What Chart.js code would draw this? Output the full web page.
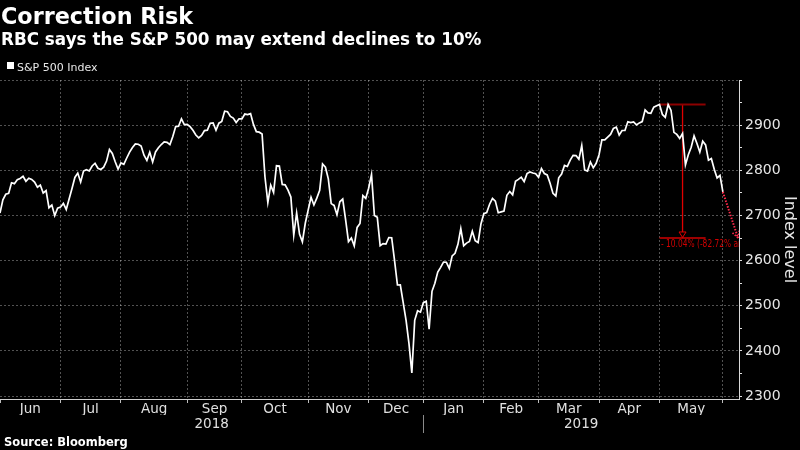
<!DOCTYPE html>
<html>
<head>
<meta charset="utf-8">
<script src="https://cdn.jsdelivr.net/npm/chart.js@4.4.1/dist/chart.umd.min.js"></script>
<style>
  html, body { margin: 0; padding: 0; background: #000; }
  #wrap { position: relative; width: 800px; height: 450px; background: #000; overflow: hidden; }
  #wrap canvas { position: absolute; left: 0; top: 0; }
  .txt { position: absolute; color: #fff; white-space: nowrap; font-family: "DejaVu Sans", sans-serif; line-height: 1; }
  #title { left: 1px; top: 5.2px; font-size: 22.3px; font-weight: bold; }
  #subtitle { left: 1px; top: 30.6px; font-size: 16.8px; font-weight: bold; }
  #legend { left: 17px; top: 61.7px; font-size: 11px; color: #e8e8e8; }
  #legendBox { position: absolute; left: 7px; top: 62px; width: 7px; height: 7px; background: #fff; }
  #source { left: 4px; top: 436.5px; font-size: 11.5px; font-weight: bold; }
</style>
</head>
<body>
<div id="wrap">
  <canvas id="spxChart" width="800" height="450"></canvas>
  <div class="txt" id="title">Correction Risk</div>
  <div class="txt" id="subtitle">RBC says the S&amp;P 500 may extend declines to 10%</div>
  <div id="legendBox"></div>
  <div class="txt" id="legend">S&amp;P 500 Index</div>
  <div class="txt" id="source">Source: Bloomberg</div>
</div>
<script>
// S&P 500 daily closes, May 31 2018 .. May 31 2019 (x = trading day index)
const closes = [
  2705.27,
  // Jun 2018
  2734.62, 2746.87, 2748.80, 2772.35, 2770.37, 2779.03, 2782.00, 2786.85, 2775.63, 2782.49, 2779.66,
  2773.75, 2762.59, 2767.32, 2749.76, 2754.88, 2717.07, 2723.06, 2699.63, 2716.31, 2718.37,
  // Jul
  2726.71, 2713.22, 2736.61, 2759.82, 2784.17, 2793.84, 2774.02, 2798.29, 2801.31, 2798.43, 2809.55,
  2815.62, 2804.49, 2801.83, 2806.98, 2820.40, 2846.07, 2837.44, 2818.82, 2802.60, 2816.29,
  // Aug
  2813.36, 2827.22, 2840.35, 2850.40, 2858.45, 2857.70, 2853.58, 2833.28, 2821.93, 2839.96, 2818.37,
  2840.69, 2850.13, 2857.05, 2862.96, 2861.82, 2856.98, 2874.69, 2896.74, 2897.52, 2914.04, 2901.13, 2901.52,
  // Sep
  2896.72, 2888.60, 2878.05, 2871.68, 2877.13, 2887.89, 2888.92, 2904.18, 2904.98, 2888.80,
  2904.31, 2907.95, 2930.75, 2929.67, 2919.37, 2915.56, 2905.97, 2914.00, 2913.98,
  // Oct
  2924.59, 2923.43, 2925.51, 2901.61, 2885.57, 2884.43, 2880.34, 2785.68, 2728.37, 2767.13, 2750.79,
  2809.92, 2809.21, 2768.78, 2767.78, 2755.88, 2740.69, 2656.10, 2705.57, 2658.69, 2641.25, 2682.63, 2711.74,
  // Nov
  2740.37, 2723.06, 2738.31, 2755.45, 2813.89, 2806.83, 2781.01, 2726.22, 2722.18, 2701.58, 2730.20,
  2736.27, 2690.73, 2641.89, 2649.93, 2632.56, 2673.45, 2682.17, 2743.79, 2737.80, 2760.17,
  // Dec
  2790.37, 2700.06, 2695.95, 2633.08, 2637.72, 2636.78, 2651.07, 2650.54, 2599.95, 2545.94,
  2546.16, 2506.96, 2467.42, 2416.62, 2351.10, 2467.70, 2488.83, 2485.74, 2506.85,
  // Jan 2019
  2510.03, 2447.89, 2531.94, 2549.69, 2574.41, 2584.96, 2596.64, 2596.26, 2582.61, 2610.30, 2616.10,
  2635.96, 2670.71, 2632.90, 2638.70, 2642.33, 2664.76, 2643.85, 2640.00, 2681.05, 2704.10,
  // Feb
  2706.53, 2724.87, 2737.70, 2731.61, 2706.05, 2707.88, 2709.80, 2744.73, 2753.03, 2745.73,
  2775.60, 2779.76, 2784.70, 2774.88, 2792.67, 2796.11, 2793.90, 2792.38, 2784.49,
  // Mar
  2803.69, 2792.81, 2789.65, 2771.45, 2748.93, 2743.07, 2783.30, 2791.52, 2810.92, 2808.48, 2822.48,
  2832.94, 2832.57, 2824.23, 2854.88, 2800.71, 2798.36, 2818.46, 2805.37, 2815.44, 2834.40,
  // Apr
  2867.19, 2867.24, 2873.40, 2879.39, 2892.74, 2895.77, 2878.20, 2888.21, 2888.32, 2907.41, 2905.58,
  2907.06, 2900.45, 2905.03, 2907.97, 2933.68, 2927.25, 2926.17, 2939.88, 2943.03, 2945.83,
  // May
  2923.73, 2917.52, 2945.64, 2932.47, 2884.05, 2879.42, 2870.72, 2881.40, 2811.87, 2834.41, 2850.96,
  2876.32, 2859.53, 2840.23, 2864.36, 2856.27, 2822.24, 2826.06, 2802.39, 2783.02, 2788.86, 2752.06
];

const monthLabels = ['Jun', 'Jul', 'Aug', 'Sep', 'Oct', 'Nov', 'Dec', 'Jan', 'Feb', 'Mar', 'Apr', 'May'];
// index of the last trading day of each month (first entry = start of data)
const monthEnds = [0, 21, 42, 65, 84, 107, 128, 147, 168, 187, 208, 229, 251];
const yearLabels = ['2018', '2019'];
const yearBreak = 147;
const yTicks = [2300, 2350, 2400, 2450, 2500, 2550, 2600, 2650, 2700, 2750, 2800, 2850, 2900, 2950, 3000];

// RBC scenario
const declinePct = 10.04;
const annualizedPct = -82.72;
const peakIndex = 229;
const markerEnd = 245;
const dropIndex = 237;
const projEndIndex = 256.25;

const xMax = 256.6;
const peakLevel = Math.max(...closes);
const targetLevel = peakLevel * (1 - declinePct / 100);
const lastIndex = closes.length - 1;

const gridGray = 'rgba(255,255,255,0.32)';
const axisFont = '"DejaVu Sans", sans-serif';

const monthCenters = monthLabels.map((m, i) => (monthEnds[i] + monthEnds[i + 1]) / 2);
const yearTicks = [yearBreak / 2, yearBreak, (yearBreak + xMax) / 2];

const annotationMarks = {
    id: 'annotationMarks',
    afterDatasetsDraw(chart) {
        const {ctx, chartArea, scales: {x, y}} = chart;
        ctx.save();
        ctx.beginPath();
        ctx.rect(chartArea.left, chartArea.top, chartArea.width, chartArea.height);
        ctx.clip();

        // hollow arrow head at the bottom of the drop line
        const ax = x.getPixelForValue(dropIndex);
        const ay = y.getPixelForValue(targetLevel);
        ctx.beginPath();
        ctx.moveTo(ax - 3.5, ay - 6);
        ctx.lineTo(ax + 3.5, ay - 6);
        ctx.lineTo(ax, ay - 0.5);
        ctx.closePath();
        ctx.fillStyle = '#000';
        ctx.fill();
        ctx.strokeStyle = '#e00000';
        ctx.lineWidth = 1;
        ctx.stroke();

        // dotted arrow head at the end of the projection
        const sx = x.getPixelForValue(lastIndex), sy = y.getPixelForValue(closes[lastIndex]);
        const ex = x.getPixelForValue(projEndIndex), ey = y.getPixelForValue(targetLevel);
        const ang = Math.atan2(ey - sy, ex - sx);
        ctx.strokeStyle = '#ff2a4a';
        ctx.lineWidth = 1.6;
        ctx.setLineDash([1.5, 1.5]);
        [-0.5, 0.5].forEach(d => {
            ctx.beginPath();
            ctx.moveTo(ex, ey);
            ctx.lineTo(ex - 9 * Math.cos(ang + d), ey - 9 * Math.sin(ang + d));
            ctx.stroke();
        });
        ctx.setLineDash([]);

        // label, squeezed to look like the narrow terminal font
        const tx = x.getPixelForValue(peakIndex) + 1.5;
        ctx.translate(tx, ay + 6.5);
        ctx.scale(0.78, 1);
        ctx.font = '9.6px ' + axisFont;
        ctx.fillStyle = '#d00000';
        ctx.textBaseline = 'middle';
        ctx.textAlign = 'left';
        ctx.fillText('- ' + declinePct.toFixed(2) + '% (' + annualizedPct.toFixed(2) + '% annualized)', 0, 0);
        ctx.restore();
    }
};

const ctx = document.getElementById('spxChart').getContext('2d');
const spxChart = new Chart(ctx, {
    type: 'line',
    data: {
        datasets: [
            {
                label: 'S&P 500 Index',
                data: closes.map((v, i) => ({x: i, y: v})),
                borderColor: '#ffffff',
                borderWidth: 1.7,
                pointRadius: 0,
                tension: 0,
                order: 1
            },
            {
                label: 'peak',
                data: [{x: peakIndex, y: peakLevel}, {x: markerEnd, y: peakLevel}],
                borderColor: '#8c0000',
                borderWidth: 2,
                pointRadius: 0,
                order: 2
            },
            {
                label: 'drop',
                data: [{x: dropIndex, y: peakLevel}, {x: dropIndex, y: targetLevel}],
                borderColor: '#e00000',
                borderWidth: 1.3,
                pointRadius: 0,
                order: 2
            },
            {
                label: 'target',
                data: [{x: peakIndex, y: targetLevel}, {x: markerEnd, y: targetLevel}],
                borderColor: '#d00000',
                borderWidth: 1.5,
                pointRadius: 0,
                order: 2
            },
            {
                label: 'projection',
                data: [{x: lastIndex, y: closes[lastIndex]}, {x: projEndIndex, y: targetLevel}],
                borderColor: '#ff2a4a',
                borderWidth: 2,
                borderDash: [1.5, 1.5],
                pointRadius: 0,
                order: 0
            }
        ]
    },
    options: {
        responsive: false,
        animation: false,
        devicePixelRatio: 1,
        layout: {
            padding: {top: 80, left: 0, right: 0, bottom: 16}
        },
        plugins: {
            legend: {display: false},
            title: {display: false},
            tooltip: {enabled: false}
        },
        scales: {
            x: {
                type: 'linear',
                position: 'bottom',
                min: 0,
                max: xMax,
                weight: 0,
                afterBuildTicks: (s) => { s.ticks = monthEnds.map(v => ({value: v})); },
                afterFit: (s) => { s.height = 4; },
                ticks: {display: false},
                grid: {
                    color: (c) => (c.tick && c.tick.value === 0) ? 'transparent' : gridGray,
                    lineWidth: 1,
                    tickLength: 4,
                    tickColor: '#bdbdbd'
                },
                border: {display: true, color: '#d0d0d0', width: 1, dash: [2, 2]}
            },
            xm: {
                type: 'linear',
                axis: 'x',
                position: 'bottom',
                min: 0,
                max: xMax,
                weight: 1,
                afterBuildTicks: (s) => { s.ticks = monthCenters.map(v => ({value: v})); },
                afterFit: (s) => { s.height = 12; },
                ticks: {
                    autoSkip: false,
                    maxRotation: 0,
                    padding: -2,
                    color: '#e0e0e0',
                    font: {family: axisFont, size: 13.5},
                    callback: (v, i) => monthLabels[i]
                },
                grid: {display: false, drawTicks: false},
                border: {display: false}
            },
            xy: {
                type: 'linear',
                axis: 'x',
                position: 'bottom',
                min: 0,
                max: xMax,
                weight: 2,
                afterBuildTicks: (s) => { s.ticks = yearTicks.map(v => ({value: v})); },
                afterFit: (s) => { s.height = 19; },
                ticks: {
                    autoSkip: false,
                    maxRotation: 0,
                    padding: -16.4,
                    color: '#e0e0e0',
                    font: {family: axisFont, size: 13.5},
                    callback: (v, i) => i === 0 ? yearLabels[0] : (i === 2 ? yearLabels[1] : '')
                },
                grid: {
                    display: true,
                    drawOnChartArea: false,
                    drawTicks: true,
                    tickLength: 18,
                    color: 'transparent',
                    tickColor: (c) => c.index === 1 ? '#8a8a8a' : 'transparent'
                },
                border: {display: false}
            },
            y: {
                type: 'linear',
                position: 'right',
                min: 2293.4,
                max: 3000,
                afterBuildTicks: (s) => { s.ticks = yTicks.map(v => ({value: v})); },
                afterFit: (s) => { s.width = 61; },
                ticks: {
                    padding: 3,
                    color: '#e6e6e6',
                    font: {family: axisFont, size: 14},
                    callback: (v) => (v % 100 === 0 && v < 3000) ? String(v) : ''
                },
                grid: {
                    color: (c) => (c.tick && c.tick.value % 100 === 0) ? gridGray : 'transparent',
                    lineWidth: 1,
                    tickLength: 3,
                    tickColor: '#e0e0e0'
                },
                border: {display: true, color: '#d8d8d8', width: 1, dash: [2, 2]},
                title: {
                    display: true,
                    text: 'Index level',
                    color: '#e6e6e6',
                    font: {family: axisFont, size: 16},
                    padding: {top: 1, bottom: 0}
                }
            }
        }
    },
    plugins: [annotationMarks]
});
</script>
</body>
</html>
